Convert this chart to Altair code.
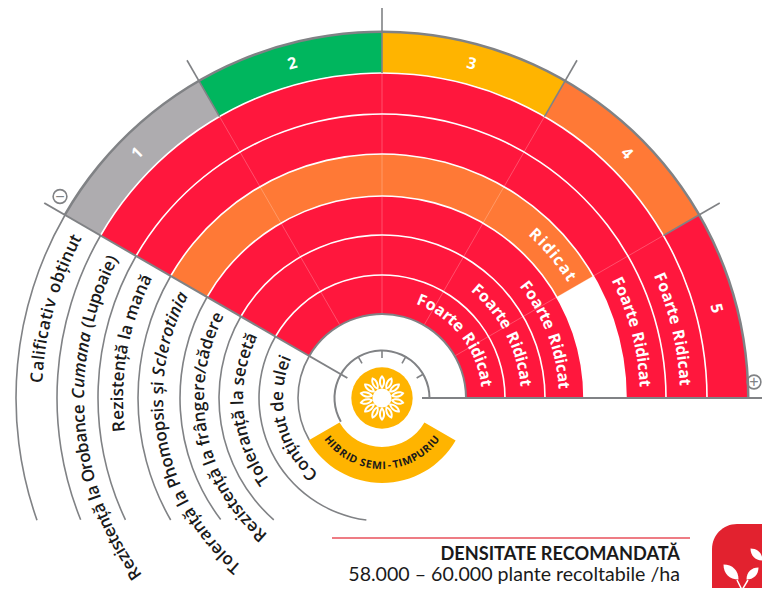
import math
import pandas as pd
import altair as alt

W, H = 754, 580
CX, CY = 374, 390   # centre of the dial in plot pixels

# ---- data -------------------------------------------------------------
ring_edges = [366, 325, 284, 244, 202, 163, 123, 84]
sector_edges = [-60, -30, 0, 30, 60, 90]
score_colors = ["#AEACAF", "#00B65E", "#FFB400", "#FF7936", "#FF173D"]
score_values = [1, 2, 3, 4, 5]
trait_scores = [5, 5, 4, 5, 5, 5]
trait_words = {4: "Ridicat", 5: "Foarte Ridicat"}
trait_names = ["Rezistență la Orobance Cumana (Lupoaie)", "Rezistență la mană",
               "Toleranță la Phomopsis și Sclerotinia", "Rezistență la frângere/cădere",
               "Toleranță la secetă", "Conținut de ulei"]
left_labels = ["Calificativ obținut"] + trait_names
left_label_r = [345, 303, 264, 224, 183, 144, 104]
left_start = [-86.6, -125.4, -96.2, -138.9, -138.3, -124.4, -137]
left_end = [-62.5, -62.7, -63.5, -63.4, -64, -65.6, -67.6]
left_arc_end = [-109.5, -112, -115.4, -120, -127, -138.4, -172.7, -120]
right_r = [303, 263, 224, 182, 144, 105]
right_start = [66.6, 63.8, 43.2, 52.2, 41.3, 22.2]
right_end = [87, 86.8, 57.2, 86, 84, 81.9]
hybrid = "HIBRID SEMI-TIMPURIU"
heading = "DENSITATE RECOMANDATĂ"
density = "58.000 – 60.000 plante recoltabile /ha"

GREY = "#808285"
FONT = "Open Sans"

# approximate advance widths, used to space letters along the arcs
def adv(c):
    if c == " ": return 0.26
    if c in "il": return 0.26
    if c in "jtfț": return 0.34
    if c == "r": return 0.40
    if c in "()/": return 0.33
    if c == "m": return 0.90
    if c in "IJ": return 0.33
    if c in "OCDGQRBHNU": return 0.68
    if c in "FTELPSZ": return 0.55
    if c == "M": return 0.9
    if c.isupper(): return 0.62
    if c in "sșcz": return 0.47
    return 0.58

def polar(r, th):
    return r * math.sin(math.radians(th)), r * math.cos(math.radians(th))

def along(text, r, start, end, flip=False, italics=()):
    """Lay a string letter by letter along a circular arc."""
    w = [adv(c) for c in text]
    total = sum(w) - w[0] / 2 - w[-1] / 2
    ital = set()
    for word in italics:
        i = text.find(word)
        ital.update(range(i, i + len(word)))
    rows, pos = [], 0.0
    for i, c in enumerate(text):
        if i > 0:
            pos += (w[i - 1] + w[i]) / 2
        th = start + (end - start) * pos / total
        x, y = polar(r, th)
        rows.append(dict(ch=c, x=x, y=y, rot=(th + (180 if flip else 0)) % 360, it=i in ital))
    return rows

X = alt.X("x:Q", axis=None, scale=alt.Scale(domain=[-CX, W - CX], range=[0, W]))
Y = alt.Y("y:Q", axis=None, scale=alt.Scale(domain=[CY - H, CY], range=[H, 0]))
TH = alt.Theta("a:Q", scale=alt.Scale(domain=[-180, 180], range=[-math.pi, math.pi]))
TH2 = alt.Theta2("b:Q")
RA = alt.Radius("r0:Q", scale=alt.Scale(type="linear", domain=[0, 400], range=[0, 400]))
RA2 = alt.Radius2("r1:Q")
CENTRE = dict(x=alt.value(CX), y=alt.value(CY))

def arcs(rows, **mark):
    return alt.Chart(pd.DataFrame(rows)).mark_arc(**mark).encode(
        theta=TH, theta2=TH2, radius=RA, radius2=RA2,
        color=alt.Color("c:N", scale=None), **CENTRE)

def segs(rows, color, width, opacity=1.0):
    out = []
    for i, (r0, r1, th) in enumerate(rows):
        x0, y0 = polar(r0, th); x1, y1 = polar(r1, th)
        out += [dict(i=i, o=0, x=x0, y=y0), dict(i=i, o=1, x=x1, y=y1)]
    return alt.Chart(pd.DataFrame(out)).mark_line(color=color, strokeWidth=width, opacity=opacity, strokeCap="butt").encode(
        x=X, y=Y, detail="i:N", order="o:Q")

def glyphs(rows, **mark):
    return alt.Chart(pd.DataFrame(rows)).mark_text(align="center", baseline="middle", **mark).encode(
        x=X, y=Y, text="ch:N", angle=alt.Angle("rot:Q", scale=None))

layers = []

# outer score ring and trait rings
ring = [dict(a=sector_edges[i], b=sector_edges[i + 1], r0=ring_edges[1], r1=ring_edges[0], c=score_colors[i])
        for i in range(5)]
for k, s in enumerate(trait_scores):
    ring.append(dict(a=-60, b=sector_edges[s], r0=ring_edges[k + 2], r1=ring_edges[k + 1], c=score_colors[s - 1]))
layers.append(arcs(ring))

# sector hairlines
layers.append(segs([(84, 325, t) for t in sector_edges[1:-1]], "#FFFFFF", 0.7, 0.35))

# white ring separators
layers.append(arcs([dict(a=-60, b=90, r0=e - 0.8, r1=e + 0.8, c="#FFFFFF") for e in ring_edges[1:-1]]))

# grey arcs: outer edge, inner edge, left label arcs, inner dial
grey = [dict(a=-60, b=90, r0=365, r1=367.5, c=GREY), dict(a=-60, b=90, r0=83, r1=85, c=GREY)]
for e, end in zip(ring_edges, left_arc_end):
    grey.append(dict(a=end, b=-60, r0=e - 0.8, r1=e + 0.8, c=GREY))
grey.append(dict(a=-120, b=90, r0=46.5, r1=48.5, c=GREY))
layers.append(arcs(grey))

# grey spokes
layers.append(segs([(40, 390, -60), (40, 390, 90)], GREY, 2))
layers.append(segs([(325, 390, t) for t in sector_edges[1:-1]], GREY, 1.6))
layers.append(segs([(40, 48, t) for t in sector_edges[1:-1]], GREY, 1.6))

# hybrid band + flower disc
layers.append(arcs([dict(a=-240, b=-120, r0=49, r1=85, c="#FFB400"),
                    dict(a=-180, b=180, r0=0, r1=30.7, c="#FFB400")]))

# petals
petal_count = 14
petal_rows = []
for i in range(petal_count):
    t = i * 360 / petal_count
    x, y = polar(16, t)
    petal_rows.append(dict(x=x, y=y, rot=t))
layers.append(alt.Chart(pd.DataFrame(petal_rows)).mark_point(
    shape="M0,-1 C0.62,-0.5 0.55,0.5 0,1 C-0.55,0.5 -0.62,-0.5 0,-1 Z",
    filled=True, color="#FFFFFF", opacity=1, size=196).encode(
    x=X, y=Y, angle=alt.Angle("rot:Q", scale=None)))
layers.append(alt.Chart(pd.DataFrame(petal_rows)).mark_point(
    shape="M0,-1 C0.4,-0.5 0.3,0.5 0,1 C-0.3,0.5 -0.4,-0.5 0,-1 Z",
    filled=True, color="#FFB400", opacity=1, size=64).encode(
    x=X, y=Y, angle=alt.Angle("rot:Q", scale=None)))
layers.append(arcs([dict(a=-180, b=180, r0=0, r1=9.5, c="#FFFFFF")]))

# curved text
rows = []
for name, r, s, e in zip(left_labels, left_label_r, left_start, left_end):
    rows += along(name, r, s, e, italics=[w for w in ("Cumana", "Sclerotinia") if w in name])
layers.append(glyphs([q for q in rows if not q["it"]], font=FONT, fontSize=17, fontWeight=600, color="#1A1A1A"))
layers.append(glyphs([q for q in rows if q["it"]], font=FONT, fontSize=17, fontWeight=600, fontStyle="italic", color="#1A1A1A"))

rows = []
for s, r, a, b in zip(trait_scores, right_r, right_start, right_end):
    rows += along(trait_words[s], r, a, b)
for v, t in zip(score_values, [-45, -15, 15, 45, 75]):
    x, y = polar(346, t)
    rows.append(dict(ch=str(v), x=x, y=y, rot=t % 360))
layers.append(glyphs(rows, font=FONT, fontSize=16, fontWeight=700, color="#FFFFFF"))

layers.append(glyphs(along(hybrid, 68, 231.4, 128.6, flip=True), font=FONT, fontSize=10.5, fontWeight=700, color="#1A1A1A"))

# plus / minus badges
badge = pd.DataFrame(dict(x=[60 - 382, 754 - 382], y=[398 - 196.5, 398 - 382], ch=["−", "+"]))
layers.append(alt.Chart(badge).mark_point(shape="circle", size=190, filled=False, color=GREY, strokeWidth=1.6, opacity=1).encode(x=X, y=Y))
layers.append(alt.Chart(badge).mark_text(font="Liberation Sans", fontSize=16, color=GREY, align="center", baseline="middle").encode(x=X, y=Y, text="ch:N"))

# footer rule + text
layers.append(alt.Chart(pd.DataFrame(dict(x=[332 - 382], x2=[690 - 382], y=[398 - 538]))).mark_rule(color="#E8505B", strokeWidth=1.4).encode(
    x=X, x2="x2:Q", y=Y))
layers.append(alt.Chart(pd.DataFrame(dict(x=[680 - 382], y=[398 - 555], t=[heading]))).mark_text(
    font="Lato", fontSize=18.2, fontWeight="bold", color="#1A1A1A", align="right", baseline="middle").encode(x=X, y=Y, text="t:N"))
layers.append(alt.Chart(pd.DataFrame(dict(x=[680 - 382], y=[398 - 575], t=[density]))).mark_text(
    font="Lato", fontSize=19.6, color="#1A1A1A", align="right", baseline="middle").encode(x=X, y=Y, text="t:N"))

# corner icon
layers.append(alt.Chart(pd.DataFrame(dict(x=[712 - 382], x2=[W - CX], y=[398 - 524], y2=[CY - H]))).mark_rect(
    color="#E2222F", cornerRadiusTopLeft=26).encode(x=X, x2="x2:Q", y=Y, y2="y2:Q"))
leaf = "M-1,-1 C0.2,-1 1,-0.2 1,1 C-0.2,1 -1,0.2 -1,-1 Z"
leaf_rows = pd.DataFrame(dict(x=[731 - 382, 752.5 - 382, 756.5 - 382], y=[398 - 572, 398 - 573.5, 398 - 554.5],
                              rot=[0, 90, 0], s=[225, 144, 144]))
layers.append(alt.Chart(leaf_rows).mark_point(shape=leaf, filled=True, color="#FFFFFF", opacity=1).encode(
    x=X, y=Y, angle=alt.Angle("rot:Q", scale=None), size=alt.Size("s:Q", scale=None)))
stem_rows = pd.DataFrame(dict(i=[0, 0, 1, 1], o=[0, 1, 0, 1],
                              x=[737 - 382, 742 - 382, 748 - 382, 742 - 382],
                              y=[398 - 580, 398 - 590, 398 - 580, 398 - 590]))
layers.append(alt.Chart(stem_rows).mark_line(color="#FFFFFF", strokeWidth=1.5, clip=True).encode(x=X, y=Y, detail="i:N", order="o:Q"))

chart = alt.layer(*layers).properties(
    width=W, height=H, padding=0, background="#FFFFFF",
    autosize=alt.AutoSizeParams(type="none", contains="padding")).configure_view(stroke=None)
chart.save("out.html", embed_options={"renderer": "svg", "actions": False})
